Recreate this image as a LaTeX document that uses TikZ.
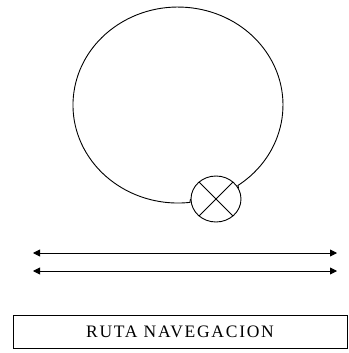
\documentclass[tikz,border=0pt]{standalone}
\usepackage{fontspec}
\setmainfont{Liberation Serif}
\usetikzlibrary{arrows.meta,shapes.geometric}
\begin{document}
\begin{tikzpicture}[x=1pt,y=-1pt,line width=0.9pt,
  dbl/.style={{Triangle[length=7pt,width=7pt]}-{Triangle[length=7pt,width=7pt]}},
  lbl/.style={draw,minimum width=334pt,minimum height=33pt,inner sep=0pt,font=\fontsize{17.5}{20}\selectfont\addfontfeature{LetterSpace=10}}]
\useasboundingbox (0,0) rectangle (348,353);
% small crossed circle
\node[draw,ellipse,minimum width=50pt,minimum height=46pt,inner sep=0pt] (sc) at (216,199) {};
\draw (sc.45) -- (sc.225);
\draw (sc.135) -- (sc.315);
% big loop
\draw (sc.25) -- (237.9,185.5)
  arc[start angle=55.2, end angle=-276.5, x radius=105, y radius=98] -- (sc.west);
% arrows
\coordinate (a1) at (33,253);
\coordinate (b1) at (337,253);
\coordinate (a2) at (33,271);
\coordinate (b2) at (337,271);
\draw[dbl] (a1) -- (b1);
\draw[dbl] (a2) -- (b2);
% label box
\node[lbl] (ruta) at (180,331.5) {RUTA NAVEGACION};
\end{tikzpicture}
\end{document}
